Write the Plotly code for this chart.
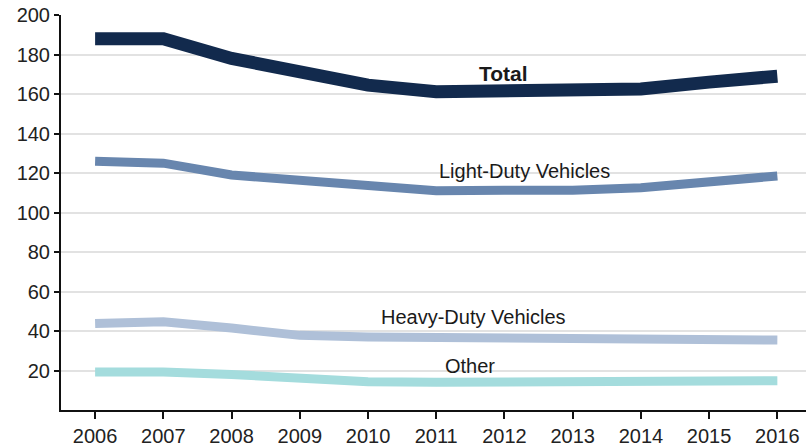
import plotly.graph_objects as go

years = [2006, 2007, 2008, 2009, 2010, 2011, 2012, 2013, 2014, 2015, 2016]
total = [188, 188, 178, 170.5, 164.5, 161.2, 161.3, 161, 162.5, 166, 169]
light_duty = [126, 125, 119, 116.5, 113.5, 111, 111.3, 111.3, 112.5, 116, 118.5]
heavy_duty = [43.8, 44.7, 41.5, 37.8, 37, 36.7, 36.4, 36, 36, 35.5, 35.4]
other = [19.2, 19.3, 18, 16, 14.3, 14, 14, 14, 14.5, 14.8, 14.8]
y_ticks = [20, 40, 60, 80, 100, 120, 140, 160, 180, 200]

series = [
    ("Other", other, "#a4dcdd", 9),
    ("Heavy-Duty Vehicles", heavy_duty, "#afc0d8", 9),
    ("Light-Duty Vehicles", light_duty, "#6886ae", 9),
    ("Total", total, "#122a4d", 13),
]

fig = go.Figure()
for name, vals, color, w in series:
    fig.add_trace(go.Scatter(x=years, y=vals, mode="lines", name=name,
                             line=dict(color=color, width=w)))

font = "Liberation Sans, Arial, Helvetica, sans-serif"
ann = [
    ("<b>Total</b>", 2011.98, 170.6, 21),
    ("Light-Duty Vehicles", 2012.29, 121, 20),
    ("Heavy-Duty Vehicles", 2011.54, 47, 20),
    ("Other", 2011.5, 22.3, 20),
]
for text, x, y, s in ann:
    fig.add_annotation(x=x, y=y, text=text, showarrow=False,
                       font=dict(family=font, size=s, color="#1a1a1a"))

fig.update_layout(
    width=806, height=447,
    margin=dict(l=61, r=0, t=15, b=37),
    paper_bgcolor="white", plot_bgcolor="white",
    showlegend=False,
    font=dict(family=font, size=20, color="#222222"),
    xaxis=dict(range=[2005.5, 2016.42], tickvals=years, ticks="outside",
               ticklen=7, tickwidth=2, tickcolor="#111", showline=True,
               linecolor="#111", linewidth=2, showgrid=False, zeroline=False,
               tickfont=dict(size=20), automargin=False),
    yaxis=dict(range=[0, 200], tickvals=y_ticks, ticks="outside", ticklen=5,
               tickwidth=2, tickcolor="#111", showline=True, linecolor="#111",
               linewidth=2, showgrid=True, gridcolor="#e2e2e2", gridwidth=1.5,
               zeroline=False, tickfont=dict(size=20), automargin=False),
)

fig.write_html("out.html", config={"displayModeBar": False},
               post_script="document.body.style.margin='0';document.body.style.overflow='hidden';")
